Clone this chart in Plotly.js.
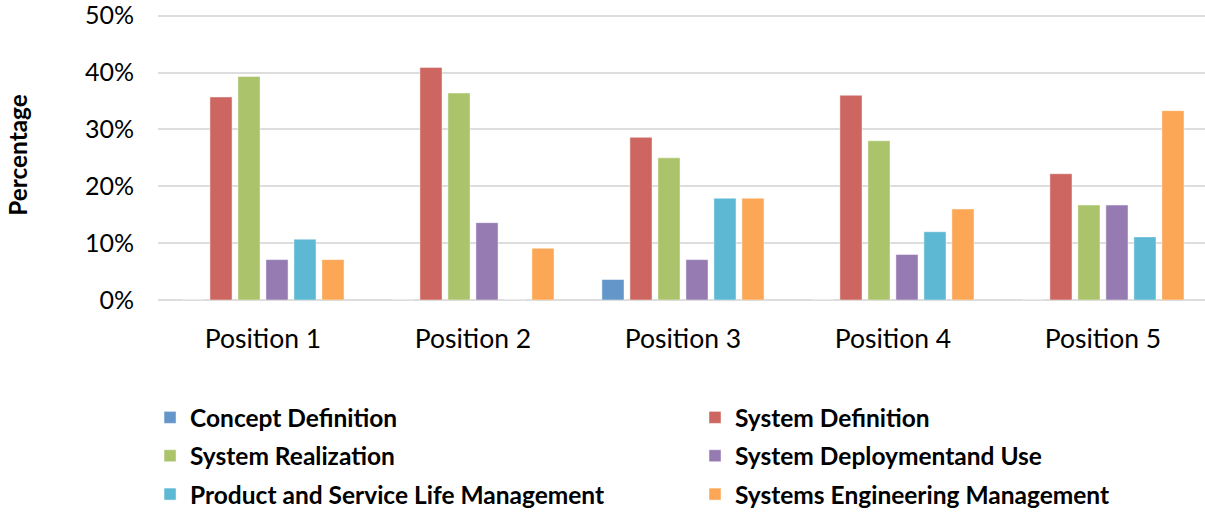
<!DOCTYPE html>
<html>
<head>
<meta charset="utf-8">
<script src="https://cdn.plot.ly/plotly-3.0.1.min.js"></script>
<style>html,body{margin:0;padding:0;background:#fff;overflow:hidden;}</style>
</head>
<body>
<div id="chart" style="width:1205px;height:512px;"></div>
<script>
const categories = ["Position 1", "Position 2", "Position 3", "Position 4", "Position 5"];
const seriesNames = ["Concept Definition", "System Definition", "System Realization",
  "System Deploymentand Use", "Product and Service Life Management", "Systems Engineering Management"];
const conceptDefinition   = [0,     0,     0.036, 0,     0];
const systemDefinition    = [0.357, 0.409, 0.286, 0.36,  0.222];
const systemRealization   = [0.393, 0.364, 0.25,  0.28,  0.167];
const systemDeployment    = [0.071, 0.136, 0.071, 0.08,  0.167];
const productService      = [0.107, 0,     0.179, 0.12,  0.111];
const sysEngManagement    = [0.071, 0.091, 0.179, 0.16,  0.333];
const yTickValues = [0, 0.1, 0.2, 0.3, 0.4, 0.5];

const seriesValues = [conceptDefinition, systemDefinition, systemRealization,
  systemDeployment, productService, sysEngManagement];
const colors = ["#6496C9", "#CD6660", "#ABC36B", "#957BB2", "#5DB9D3", "#FBA756"];
const legendFor = ["legend", "legend2", "legend", "legend2", "legend", "legend2"];

const traces = seriesValues.map((vals, i) => ({
  type: "bar",
  name: seriesNames[i],
  x: categories,
  y: vals,
  legend: legendFor[i],
  legendgroup: "g" + i,
  marker: { color: colors[i], line: { color: "rgba(255,255,255,0.45)", width: 1 } },
  hovertemplate: "%{x}<br>" + seriesNames[i] + ": %{y:.1%}<extra></extra>"
}));

const FONT = "Lato, 'Open Sans', sans-serif";
const legendFont = { family: FONT, size: 24.5, color: "#000", weight: "bold" };

const layout = {
  width: 1205,
  height: 512,
  margin: { l: 158, r: 0, t: 10.3, b: 212 },
  paper_bgcolor: "#fff",
  plot_bgcolor: "#fff",
  barmode: "group",
  bargap: 0.2,
  bargroupgap: 0.21,
  font: { family: FONT, color: "#000" },
  xaxis: {
    type: "category",
    range: [-0.5, 4.486],
    showgrid: false,
    showline: false,
    zeroline: false,
    ticks: "",
    tickfont: { family: FONT, size: 26.5, color: "#000" },
    ticklabelstandoff: 20,
    ticklabeloverflow: "allow",
    automargin: false,
    fixedrange: true
  },
  yaxis: {
    range: [0, 0.51],
    tickvals: yTickValues,
    tickformat: ".0%",
    showgrid: true,
    gridcolor: "#DDDDDD",
    gridwidth: 2,
    zeroline: true,
    zerolinecolor: "#DDDDDD",
    zerolinewidth: 2,
    showline: false,
    ticks: "",
    tickfont: { family: FONT, size: 25, color: "#000" },
    ticklabelstandoff: 23,
    ticklabeloverflow: "allow",
    automargin: false,
    title: { text: "Percentage", font: { family: FONT, size: 24.4, color: "#000", weight: "bold" }, standoff: 50 },
    fixedrange: true
  },
  legend: {
    orientation: "v",
    xref: "paper", x: -0.0076, xanchor: "left",
    yref: "container", y: 0.2286, yanchor: "top",
    traceorder: "grouped",
    tracegroupgap: 3.5,
    font: legendFont,
    bgcolor: "rgba(0,0,0,0)"
  },
  legend2: {
    orientation: "v",
    xref: "paper", x: 0.5129, xanchor: "left",
    yref: "container", y: 0.2286, yanchor: "top",
    traceorder: "grouped",
    tracegroupgap: 3.5,
    font: legendFont,
    bgcolor: "rgba(0,0,0,0)"
  },
  showlegend: true
};

Plotly.newPlot("chart", traces, layout, { displayModeBar: false, responsive: false });
</script>
</body>
</html>
